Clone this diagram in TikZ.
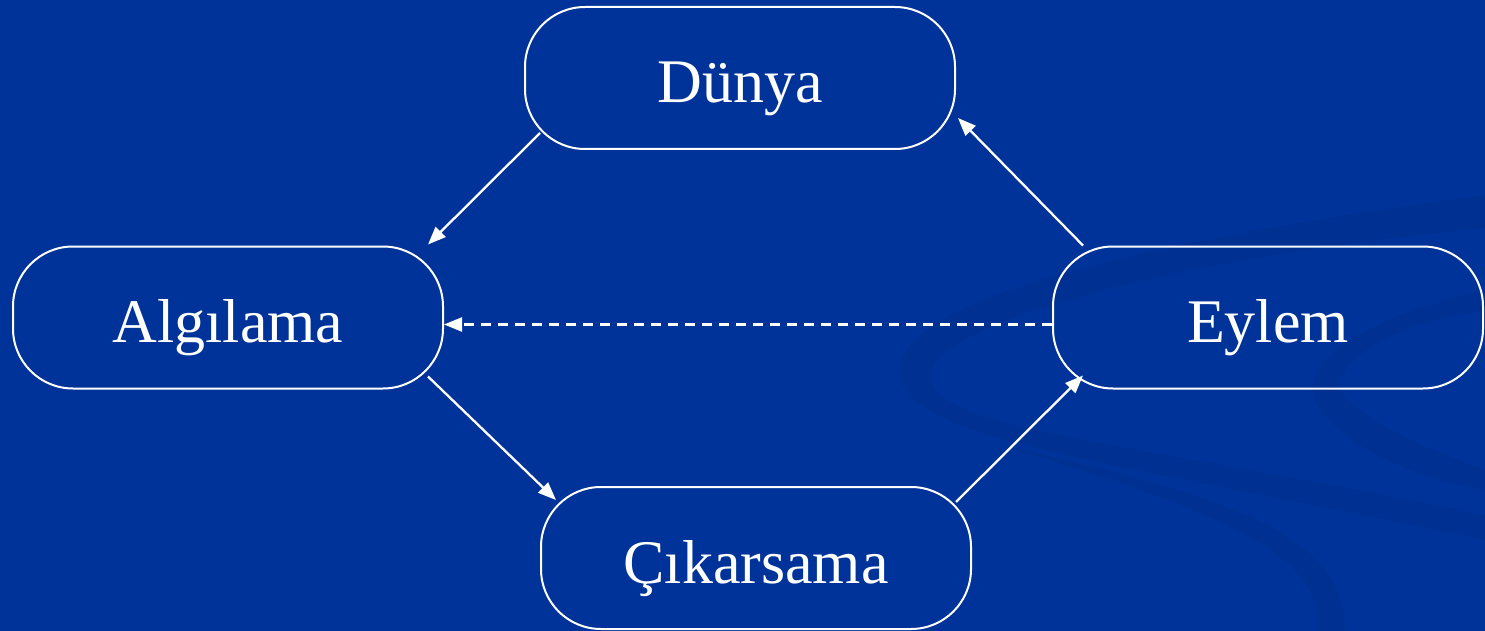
\documentclass[tikz,border=0pt]{standalone}
\usepackage{fontspec}
\setmainfont{Liberation Serif}
\usetikzlibrary{arrows.meta,calc}
\definecolor{bgblue}{RGB}{0,51,153}
\definecolor{swoosh}{RGB}{0,48,146}
\tikzset{
  box/.style={draw=white, line width=2pt, rounded corners=60pt, minimum width=430pt, minimum height=142pt, inner sep=0pt, text=white, text height=50pt, text depth=0pt, font=\fontsize{62}{70}\selectfont},
  conn/.style={draw=white, line width=2.3pt, -{Triangle[length=18pt,width=14pt]}},
  dconn/.style={conn, dash pattern=on 10pt off 7pt}
}
\begin{document}
\begin{tikzpicture}[x=1pt,y=-1pt]
\fill[bgblue] (0,0) rectangle (1485,631);
\useasboundingbox (0,0) rectangle (1485,631);
% background swoosh
\fill[swoosh] (1485,195) .. controls (1150,240) and (880,300) .. (900,380)
   .. controls (920,440) and (1100,460) .. (1485,540) -- (1485,515)
   .. controls (1150,445) and (940,430) .. (930,380)
   .. controls (925,320) and (1200,255) .. (1485,228) -- cycle;
\fill[swoosh] (1485,290) .. controls (1350,320) and (1290,370) .. (1320,410)
   .. controls (1350,450) and (1420,480) .. (1485,490) -- (1485,470)
   .. controls (1400,440) and (1330,400) .. (1340,380)
   .. controls (1360,340) and (1420,320) .. (1485,310) -- cycle;
\fill[swoosh] (1000,445) .. controls (1250,520) and (1320,560) .. (1318,631) -- (1345,631)
   .. controls (1345,540) and (1250,500) .. (1000,445) -- cycle;
% nodes
\node[box] (d) at (740,78) {Dünya};
\node[box] (a) at (228,317.5) {Algılama};
\node[box] (e) at (1268,317.5) {Eylem};
\node[box] (c) at (756,558) {Çıkarsama};
% connectors
\draw[conn] ($(d.south west)+(16,-17)$) -- ($(a.north east)+(-16,-1)$);
\draw[conn] ($(a.south east)+(-16,-13)$) -- ($(c.north west)+(16,14)$);
\draw[conn] ($(c.north east)+(-16,16)$) -- ($(e.south west)+(31,-14)$);
\draw[conn] ($(e.north west)+(31,0)$) -- ($(d.south east)+(2,-32)$);
\draw[dconn] ($(e.west)+(0,7)$) -- ($(a.east)+(0,7)$);
\end{tikzpicture}
\end{document}
